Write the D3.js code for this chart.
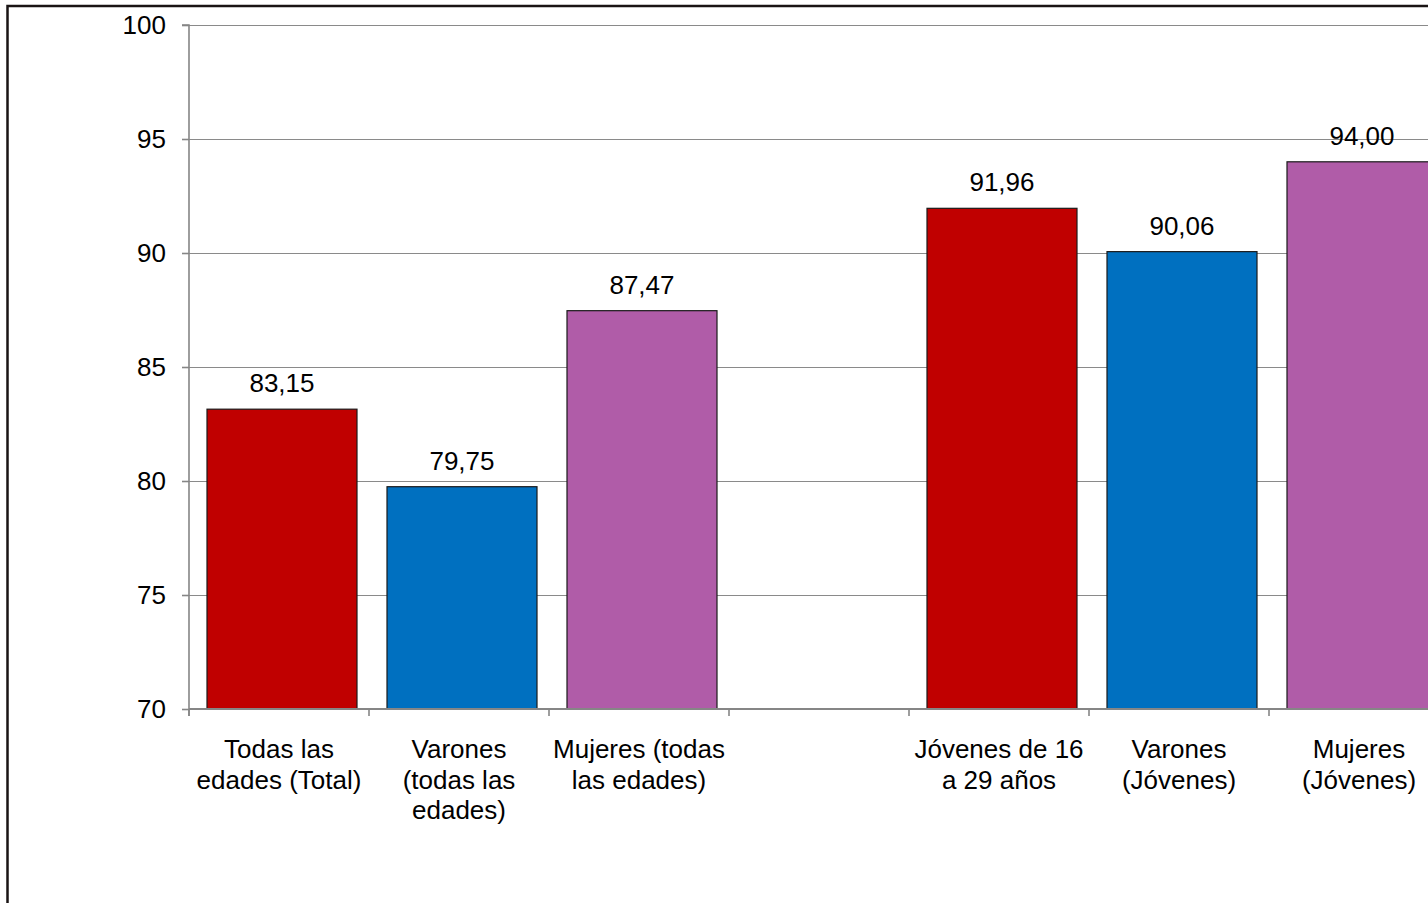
<!DOCTYPE html>
<html>
<head>
<meta charset="utf-8">
<script src="https://cdn.jsdelivr.net/npm/d3@7"></script>
<style>
  html, body { margin: 0; padding: 0; background: #fff; }
  svg { display: block; }
  text { font-family: "Liberation Sans", Arial, sans-serif; fill: #000; }
</style>
</head>
<body>
<svg id="chart" width="1428" height="903"></svg>
<script>
// ---- data ----
const categories = [
  "Todas las\nedades (Total)",
  "Varones\n(todas las\nedades)",
  "Mujeres (todas\nlas edades)",
  "",
  "Jóvenes de 16\na 29 años",
  "Varones\n(Jóvenes)",
  "Mujeres\n(Jóvenes)"
];
const values = [83.15, 79.75, 87.47, null, 91.96, 90.06, 94.00];
const barColors = ["#C00000", "#0070C0", "#B05CA8", null, "#C00000", "#0070C0", "#B05CA8"];
const yTicks = [70, 75, 80, 85, 90, 95, 100];

// ---- layout ----
const W = 1428, H = 903;
const plot = { left: 189, top: 25, bottom: 709 };
const bandW = 180;
const fontSize = 26;

const svg = d3.select("#chart");

// frame
svg.append("rect")
  .attr("x", 7.5).attr("y", 6)
  .attr("width", W + 20).attr("height", H + 20)
  .attr("fill", "none")
  .attr("stroke", "#1a1414")
  .attr("stroke-width", 2.5);

const idx = categories.map((_, i) => i);
const x = d3.scaleBand()
  .domain(idx)
  .range([plot.left, plot.left + bandW * categories.length])
  .padding(0);

const y = d3.scaleLinear().domain([70, 100]).range([plot.bottom, plot.top]);

// gridlines
svg.append("g")
  .selectAll("line")
  .data(yTicks.filter(t => t !== 70))
  .join("line")
  .attr("x1", plot.left).attr("x2", x.range()[1])
  .attr("y1", d => Math.round(y(d)) + 0.5).attr("y2", d => Math.round(y(d)) + 0.5)
  .attr("stroke", "#8a8a8a")
  .attr("stroke-width", 1.2);

// y axis
const yAxis = d3.axisLeft(y)
  .tickValues(yTicks)
  .tickSize(7)
  .tickPadding(16)
  .tickFormat(d3.format("d"));
const gy = svg.append("g")
  .attr("transform", `translate(${plot.left},0)`)
  .call(yAxis);
gy.select(".domain").attr("stroke", "#868686").attr("stroke-width", 1.6)
  .attr("d", `M-7,${y(100)}H0V${plot.bottom + 7}`);
gy.selectAll(".tick line").attr("stroke", "#868686").attr("stroke-width", 1.6);
gy.selectAll(".tick text")
  .attr("font-size", fontSize)
  .attr("font-family", "Liberation Sans, Arial, sans-serif")
  .attr("fill", "#000");

// bars
const bars = idx.filter(i => values[i] !== null);
svg.append("g")
  .selectAll("rect")
  .data(bars)
  .join("rect")
  .attr("x", i => x(i) + x.bandwidth() * 0.1)
  .attr("width", x.bandwidth() * (150 / 180))
  .attr("y", i => y(values[i]))
  .attr("height", i => y(70) - y(values[i]))
  .attr("fill", i => barColors[i])
  .attr("stroke", "#1a1a1a")
  .attr("stroke-width", 1.2);

// x axis (line + ticks at band boundaries)
const gx = svg.append("g");
gx.append("line")
  .attr("x1", plot.left).attr("x2", x.range()[1])
  .attr("y1", plot.bottom).attr("y2", plot.bottom)
  .attr("stroke", "#868686").attr("stroke-width", 1.8);
const bounds = idx.map(i => x(i)).concat([x.range()[1]]);
gx.selectAll("line.tk")
  .data(bounds)
  .join("line")
  .attr("class", "tk")
  .attr("x1", d => d).attr("x2", d => d)
  .attr("y1", plot.bottom).attr("y2", plot.bottom + 7)
  .attr("stroke", "#868686").attr("stroke-width", 1.6);

// category labels
const fmt = v => d3.format(".2f")(v).replace(".", ",");
const labG = svg.append("g");
idx.forEach(i => {
  const lines = categories[i].split("\n").filter(s => s.length);
  const t = labG.append("text")
    .attr("text-anchor", "middle")
    .attr("font-size", fontSize)
    .attr("x", x(i) + x.bandwidth() / 2)
    .attr("y", plot.bottom + 49);
  lines.forEach((ln, k) => {
    t.append("tspan")
      .attr("x", x(i) + x.bandwidth() / 2)
      .attr("dy", k === 0 ? 0 : 30.5)
      .text(ln);
  });
});

// value labels
svg.append("g")
  .selectAll("text")
  .data(bars)
  .join("text")
  .attr("text-anchor", "middle")
  .attr("font-size", fontSize)
  .attr("x", i => x(i) + x.bandwidth() * 0.1 + x.bandwidth() * (150 / 180) / 2)
  .attr("y", i => y(values[i]) - 17)
  .text(i => fmt(values[i]));
</script>
</body>
</html>
